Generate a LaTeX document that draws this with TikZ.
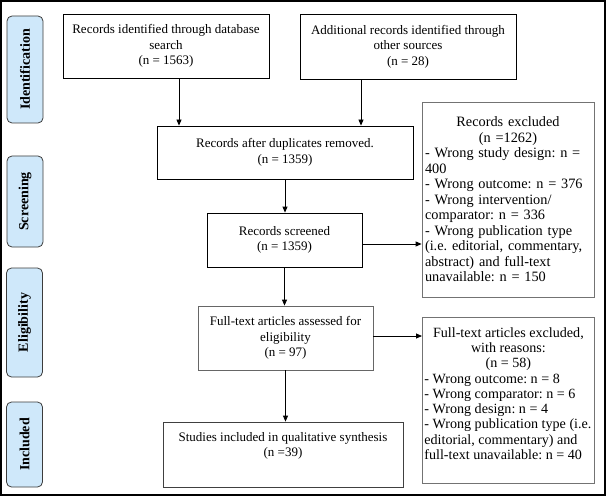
\documentclass[tikz,border=0pt]{standalone}
\usepackage{fontspec}
\setmainfont{Liberation Serif}
\usetikzlibrary{arrows.meta,calc}
\definecolor{labfill}{RGB}{207,232,250}
\definecolor{labdraw}{RGB}{60,60,60}
\frenchspacing
\begin{document}
\begin{tikzpicture}[x=1pt,y=-1pt,
  lab/.style={draw=labdraw, fill=labfill, rounded corners=5pt, line width=0.8pt, rotate=90,
    minimum height=36pt, inner sep=0pt, font=\fontsize{14pt}{16pt}\selectfont\bfseries},
  box/.style={draw=black, line width=0.8pt, align=center, inner sep=2pt,
    font=\fontsize{13pt}{15.5pt}\selectfont},
  rbox/.style={draw=black!55, line width=0.8pt, inner sep=3pt,
    font=\fontsize{14.3pt}{15.5pt}\selectfont},
  arr/.style={-{Triangle[length=6pt,width=5pt]}, line width=0.8pt}
]
\useasboundingbox (0,0) rectangle (607,497);
\draw[line width=1.2pt] (1,1) rectangle (605,495);

% phase labels
\node[lab, minimum width=107pt] (lid) at (25,69.5) {Identification};
\node[lab, minimum width=91pt] (lsc) at (25,201.5) {Screening};
\node[lab, minimum width=109pt] (lel) at (24.5,322.5) {Eligibility};
\node[lab, minimum width=85pt] (lin) at (24.5,444.5) {Included};

% main boxes
\node[box, minimum width=206pt, minimum height=64pt] (b1) at (166,46)
  {Records identified through database\\search\\(n = 1563)};
\node[box, minimum width=216pt, minimum height=65pt] (b2) at (408,46.5)
  {Additional records identified through\\other sources\\(n = 28)};
\node[box, minimum width=256pt, minimum height=53pt] (b3) at (285,152.5)
  {Records after duplicates removed.\\(n = 1359)};
\node[box, minimum width=155pt, minimum height=54pt] (b4) at (284.5,240)
  {Records screened\\(n = 1359)};
\node[box, draw=black!60, minimum width=175pt, minimum height=64pt] (b5) at (285.5,338)
  {Full-text articles assessed for\\eligibility\\(n = 97)};
\node[box, draw=black!75, minimum width=240pt, minimum height=65pt] (b7) at (283,454.5)
  {Studies included in qualitative synthesis\\(n =39)\\\strut};

% exclusion boxes
\node[rbox, minimum width=172pt, minimum height=195pt, text width=166pt, align=left] (e1) at (508,199.5)
  {{\centering Records excluded\\(n =1262)\par}
   - Wrong study design: n =\\
   400\\
   - Wrong outcome: n = 376\\
   - Wrong intervention/\\
   comparator: n = 336\\
   - Wrong publication type\\
   (i.e. editorial, commentary,\\
   abstract) and full-text\\
   unavailable: n = 150};
\node[rbox, minimum width=172pt, minimum height=166pt, anchor=north west, inner sep=0pt] (e2) at (422,317)
  {\hspace*{2pt}\parbox[c][166pt][t]{168pt}{\vspace*{10pt}\fontsize{14.1pt}{15.3pt}\selectfont
   {\centering Full-text articles excluded,\\with reasons:\\(n = 58)\par}
   \raggedright
   - Wrong outcome: n = 8\\
   - Wrong comparator: n = 6\\
   - Wrong design: n = 4\\
   \mbox{- Wrong publication type (i.e.}\\
   editorial, commentary) and\\
   full-text unavailable: n = 40}\hspace*{2pt}};

% connectors
\draw[arr] (b1.south -| 179,0) -- (b3.north -| 179,0);
\draw[arr] (b2.south -| 361,0) -- (b3.north -| 361,0);
\draw[arr] (b3.south) -- (b3.south |- b4.north);
\draw[arr] ([yshift=-4pt]b4.east) -- ([yshift=-4pt]b4.east -| e1.west);
\draw[arr] (b4.south) -- (b4.south |- b5.north);
\draw[arr] ([yshift=2pt]b5.east) -- ([yshift=2pt]b5.east -| e2.west);
\draw[arr] (b5.south) -- (b5.south |- b7.north);
\end{tikzpicture}
\end{document}
